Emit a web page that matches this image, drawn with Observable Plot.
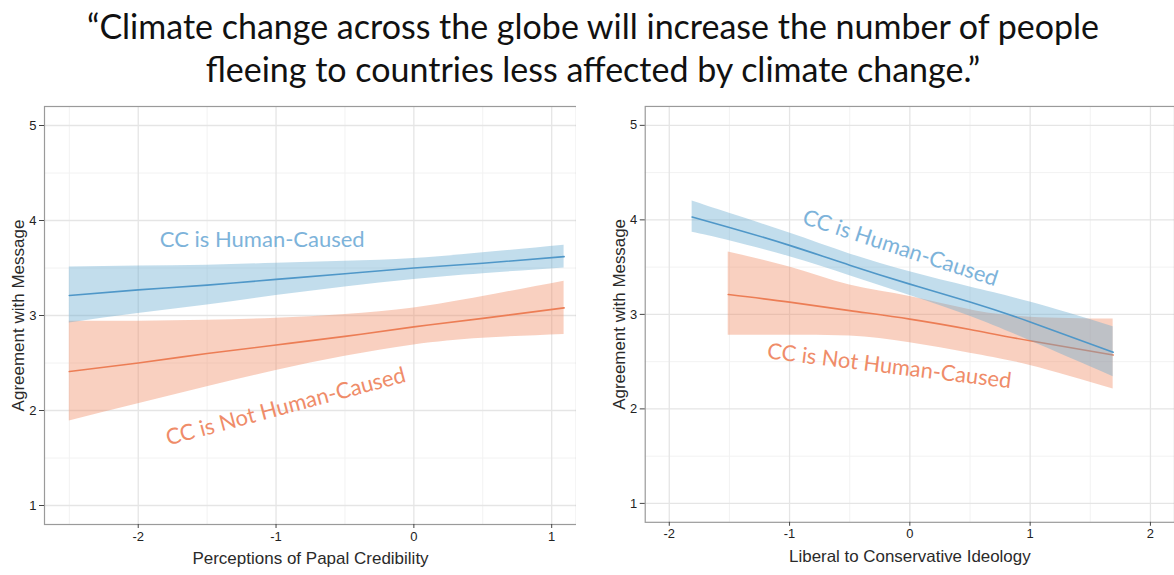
<!DOCTYPE html>
<html>
<head>
<meta charset="utf-8">
<script src="https://cdn.jsdelivr.net/npm/d3@7"></script>
<script src="https://cdn.jsdelivr.net/npm/@observablehq/plot@0.6"></script>
<style>
  html, body { margin: 0; padding: 0; background: #fff; overflow: hidden; }
  #page { position: relative; width: 1174px; height: 575px; }
  #title {
    position: absolute; left: 6px; top: 0; width: 1174px;
    padding-top: 4px;
    text-align: center; font-family: Lato, "Open Sans", sans-serif;
    font-size: 34px; line-height: 43px; color: #111;
  }
  #left { position: absolute; left: 0; top: 96px; }
  #right { position: absolute; left: 590px; top: 96px; }
</style>
</head>
<body>
<div id="page">
  <div id="title">“Climate change across the globe will increase the number of people<br>fleeing to countries less affected by climate change.”</div>
  <div id="left"></div>
  <div id="right"></div>
</div>
<script>
// Panel 1: agreement by perceived papal credibility
const papalX         = [-2.5, -2, -1.5, -1, -0.5, 0, 0.5, 1.09];
const papalHumanFit  = [3.21, 3.27, 3.32, 3.38, 3.44, 3.50, 3.55, 3.62];
const papalHumanLow  = [2.92, 3.02, 3.11, 3.21, 3.30, 3.38, 3.44, 3.50];
const papalHumanHigh = [3.51, 3.52, 3.53, 3.55, 3.57, 3.60, 3.66, 3.74];
const papalNotFit    = [2.41, 2.50, 2.60, 2.69, 2.78, 2.88, 2.97, 3.08];
const papalNotLow    = [1.89, 2.07, 2.25, 2.42, 2.57, 2.69, 2.76, 2.80];
const papalNotHigh   = [2.94, 2.94, 2.95, 2.97, 3.01, 3.08, 3.20, 3.36];

// Panel 2: agreement by liberal-to-conservative ideology
const ideoHumanX     = [-1.81, -1.5, -1, -0.5, 0, 0.5, 1, 1.69];
const ideoHumanFit   = [4.03, 3.92, 3.73, 3.52, 3.32, 3.13, 2.92, 2.60];
const ideoHumanLow   = [3.87, 3.78, 3.61, 3.41, 3.20, 2.98, 2.72, 2.34];
const ideoHumanHigh  = [4.20, 4.07, 3.86, 3.64, 3.45, 3.29, 3.13, 2.87];
const ideoNotX       = [-1.51, -1, -0.5, 0, 0.5, 1, 1.69];
const ideoNotFit     = [3.21, 3.13, 3.04, 2.95, 2.84, 2.72, 2.57];
const ideoNotLow     = [2.78, 2.78, 2.77, 2.70, 2.59, 2.46, 2.21];
const ideoNotHigh    = [3.66, 3.50, 3.31, 3.19, 3.05, 2.97, 2.95];

// Axis ticks and text
const yTicks = [1, 2, 3, 4, 5];
const yMinor = [1.5, 2.5, 3.5, 4.5];
const papalTicks = [-2, -1, 0, 1];
const papalMinor = [-2.5, -1.5, -0.5, 0.5];
const ideoTicks = [-2, -1, 0, 1, 2];
const ideoMinor = [-1.5, -0.5, 0.5, 1.5];
const yTitle = "Agreement with Message";
const papalTitle = "Perceptions of Papal Credibility";
const ideoTitle = "Liberal to Conservative Ideology";
const humanLabel = "CC is Human-Caused";
const notHumanLabel = "CC is Not Human-Caused";

const blue = "#67a9cf", orange = "#ef8a62";
const blueLine = "#4f97c8", orangeLine = "#ec7d55";
const blueText = "#7db3da", orangeText = "#ef8c69";

const rows = (xs, fit, lo, hi) => xs.map((x, i) => ({x, fit: fit[i], lo: lo[i], hi: hi[i]}));

function panel({xDomain, xTicks, xMinor, xTitle, human, notHuman, labels, marginLeft, width}) {
  return Plot.plot({
    width, height: 479,
    marginLeft, marginRight: 0, marginTop: 10, marginBottom: 51,
    style: {fontFamily: "'Liberation Sans', Arial, sans-serif", fontSize: "13px", color: "#222", background: "transparent"},
    x: {domain: xDomain},
    y: {domain: [0.8, 5.2]},
    marks: [
      Plot.ruleX(xMinor, {stroke: "#f2f2f2", strokeWidth: 1}),
      Plot.ruleY(yMinor, {stroke: "#f2f2f2", strokeWidth: 1}),
      Plot.ruleX(xTicks, {stroke: "#e5e5e5", strokeWidth: 1.3}),
      Plot.ruleY(yTicks, {stroke: "#e5e5e5", strokeWidth: 1.3}),
      Plot.frame({stroke: "#9a9a9a", strokeWidth: 1.2}),
      Plot.axisX({ticks: xTicks, tickSize: 4, tickPadding: 3, tickFormat: d => String(d), label: null, stroke: "#444", fill: "#222", fontSize: 13}),
      Plot.axisY({ticks: yTicks, tickSize: 5, tickPadding: 3, tickFormat: d => String(d), label: null, stroke: "#444", fill: "#222", fontSize: 13}),
      Plot.text([xTitle], {frameAnchor: "bottom", lineAnchor: "middle", dy: 34, text: d => d, fill: "#2a2a2a", fontSize: 17}),
      Plot.text([yTitle], {frameAnchor: "left", textAnchor: "middle", lineAnchor: "middle", dx: -26, rotate: -90, text: d => d, fill: "#2a2a2a", fontSize: 17}),
      // Not human-caused: ribbon then fit line
      Plot.areaY(notHuman, {x: "x", y1: "lo", y2: "hi", fill: orange, fillOpacity: 0.4, curve: "natural"}),
      Plot.line(notHuman, {x: "x", y: "fit", stroke: orangeLine, strokeWidth: 1.6, curve: "natural"}),
      // Human-caused: ribbon then fit line
      Plot.areaY(human, {x: "x", y1: "lo", y2: "hi", fill: blue, fillOpacity: 0.4, curve: "natural"}),
      Plot.line(human, {x: "x", y: "fit", stroke: blueLine, strokeWidth: 1.6, curve: "natural"}),
      Plot.text(labels, {x: "x", y: "y", text: "text", rotate: "rotate", fill: "color",
        fontFamily: "Lato, 'Open Sans', sans-serif", fontSize: 22})
    ]
  });
}

document.getElementById("left").append(panel({
  xDomain: [-2.68, 1.18], xTicks: papalTicks, xMinor: papalMinor, xTitle: papalTitle,
  human: rows(papalX, papalHumanFit, papalHumanLow, papalHumanHigh),
  notHuman: rows(papalX, papalNotFit, papalNotLow, papalNotHigh),
  labels: [
    {x: -1.1, y: 3.80, text: humanLabel, rotate: 0, color: blueText},
    {x: -0.93, y: 2.04, text: notHumanLabel, rotate: -15, color: orangeText}
  ],
  marginLeft: 44, width: 576
}));

document.getElementById("right").append(panel({
  xDomain: [-2.2, 2.2], xTicks: ideoTicks, xMinor: ideoMinor, xTitle: ideoTitle,
  human: rows(ideoHumanX, ideoHumanFit, ideoHumanLow, ideoHumanHigh),
  notHuman: rows(ideoNotX, ideoNotFit, ideoNotLow, ideoNotHigh),
  labels: [
    {x: -0.08, y: 3.70, text: humanLabel, rotate: 18, color: blueText},
    {x: -0.17, y: 2.45, text: notHumanLabel, rotate: 7, color: orangeText}
  ],
  marginLeft: 55, width: 587
}));
</script>
</body>
</html>
